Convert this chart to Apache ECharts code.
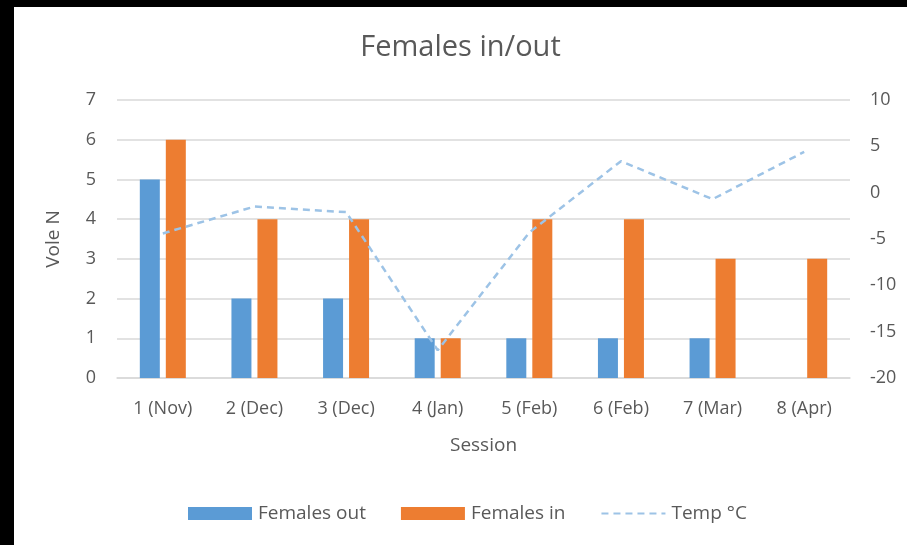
<!DOCTYPE html>
<html>
<head>
<meta charset="utf-8">
<script src="https://cdn.jsdelivr.net/npm/echarts@6/dist/echarts.min.js"></script>
<style>
    html, body { margin: 0; padding: 0; background: #000; }
    #myChart { position: absolute; left: 14px; top: 7px; width: 893px; height: 538px; background: #fff; }
</style>
</head>
<body>
<div id="myChart"></div>
<script>
    var sessions = ['1 (Nov)', '2 (Dec)', '3 (Dec)', '4 (Jan)', '5 (Feb)', '6 (Feb)', '7 (Mar)', '8 (Apr)'];
    var femalesOut = [5, 2, 2, 1, 1, 1, 1, 0];
    var femalesIn = [6, 4, 4, 1, 4, 4, 3, 3];
    var tempC = [-4.4, -1.5, -2.1, -17, -4.3, 3.4, -0.7, 4.4];

    var txt = '#595959';
    var font = '"Open Sans", sans-serif';

    var myChart = echarts.init(document.getElementById('myChart'));
    myChart.setOption({
        animation: false,
        textStyle: { fontFamily: font },
        title: {
            text: 'Females in/out',
            left: 'center',
            top: 21,
            textStyle: { color: txt, fontSize: 29, fontWeight: 'normal', fontFamily: font }
        },
        legend: {
            top: 492,
            left: 169,
            itemWidth: 64,
            itemHeight: 13,
            itemGap: 35,
            textStyle: { color: txt, fontSize: 19, padding: [0, 0, 0, 1] },
            data: [
                { name: 'Females out', icon: 'rect' },
                { name: 'Females in', icon: 'rect' },
                { name: 'Temp °C', itemStyle: { color: 'rgba(0,0,0,0)', borderWidth: 0 } }
            ]
        },
        grid: { left: 103, right: 57, top: 93, bottom: 167 },
        xAxis: {
            type: 'category',
            data: sessions,
            name: 'Session',
            nameLocation: 'middle',
            nameGap: 58,
            nameTextStyle: { color: txt, fontSize: 19 },
            axisTick: { show: false },
            axisLine: { lineStyle: { color: '#d9d9d9', width: 1.5 } },
            axisLabel: { color: txt, fontSize: 18, margin: 22 }
        },
        yAxis: [{
            type: 'value',
            min: 0,
            max: 7,
            interval: 1,
            name: 'Vole N',
            nameLocation: 'middle',
            nameGap: 54,
            nameTextStyle: { color: txt, fontSize: 19 },
            axisLabel: { color: txt, fontSize: 18, margin: 21 },
            splitLine: { lineStyle: { color: '#d9d9d9', width: 1.5 } }
        }, {
            type: 'value',
            min: -20,
            max: 10,
            interval: 5,
            axisLabel: { color: txt, fontSize: 18, margin: 20 },
            splitLine: { show: false }
        }],
        series: [{
            name: 'Females out',
            type: 'bar',
            data: femalesOut,
            barWidth: 20,
            barGap: '30%',
            itemStyle: { color: '#5b9bd5' }
        }, {
            name: 'Females in',
            type: 'bar',
            data: femalesIn,
            barWidth: 20,
            itemStyle: { color: '#ed7d31' }
        }, {
            name: 'Temp °C',
            type: 'line',
            yAxisIndex: 1,
            data: tempC,
            symbol: 'none',
            itemStyle: { color: '#9dc3e6' },
            lineStyle: { color: '#9dc3e6', width: 2.5, type: [7, 5] }
        }]
    });
</script>
</body>
</html>
